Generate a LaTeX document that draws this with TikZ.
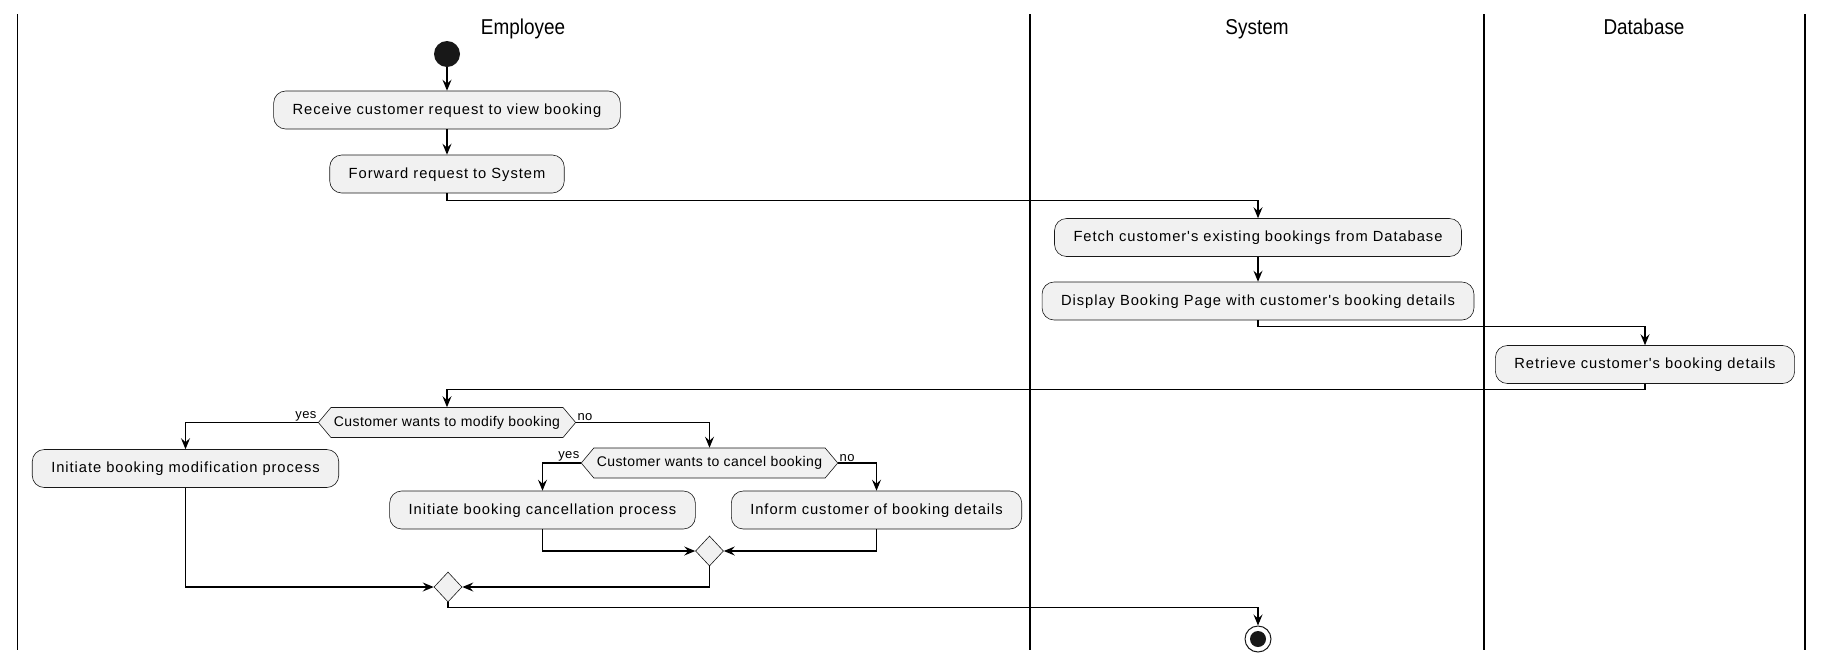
\documentclass[tikz,border=0pt]{standalone}
\usepackage{fontspec}
\setmainfont{Liberation Sans}
\newfontfamily\actfont[LetterSpace=6.5]{Liberation Sans}
\newfontfamily\askfont[LetterSpace=3]{Liberation Sans}
\newfontfamily\lanefont[FakeStretch=0.88]{Liberation Sans}
\usepackage{tikz}
\usetikzlibrary{shapes,arrows.meta,positioning,calc}
\definecolor{actfill}{HTML}{F1F1F1}
\definecolor{actline}{HTML}{181818}

\begin{document}
\begin{tikzpicture}[x=1pt,y=-1pt,
    lane/.style={line width=1.8pt},
    title/.style={anchor=base, font=\lanefont\fontsize{21.5}{24}\selectfont},
    act/.style={draw=actline, fill=actfill, line width=0.6pt, rounded corners=12pt,
        minimum height=38pt, inner xsep=19pt, text height=0.9em, text depth=0.03em,
        font=\actfont\fontsize{14.7}{18}\selectfont},
    ask/.style={draw=actline, fill=actfill, line width=0.6pt, shape=signal,
        signal to=east and west, signal pointer angle=100, minimum height=30pt,
        inner xsep=3pt, text height=0.8em, text depth=0.05em,
        font=\askfont\fontsize{14}{16}\selectfont},
    merge/.style={draw=actline, fill=actfill, line width=0.6pt, shape=diamond,
        minimum width=28pt, minimum height=30pt, inner sep=0pt},
    flag/.style={font=\askfont\fontsize{13}{14}\selectfont, inner sep=1pt},
    flow/.style={-{Stealth[length=11pt,width=9pt,inset=4pt]}, line width=1.1pt}
]
\useasboundingbox (0,0) rectangle (1829,665);

% swimlanes
\foreach \x in {17.5,1030,1484,1805} {
    \draw[lane] (\x,14) -- (\x,650);
}
\node[title] (empl) at (523,34) {Employee};
\node[title] (syst) at (1257,34) {System};
\node[title] (dbase) at (1644,34) {Database};

% activities
\node[circle, fill=actline, minimum size=26pt, inner sep=0pt] (start) at (447,54) {};
\node[act] (recv) at (447,110) {Receive customer request to view booking};
\node[act] (fwd) at (447,174) {Forward request to System};
\node[act] (fetch) at (1258,237.5) {Fetch customer's existing bookings from Database};
\node[act] (disp) at (1258,301) {Display Booking Page with customer's booking details};
\node[act] (retr) at (1645,364.5) {Retrieve customer's booking details};
\node[ask] (modq) at (447,422.5) {Customer wants to modify booking};
\node[act] (modp) at (185.5,468.5) {Initiate booking modification process};
\node[ask] (canq) at (709.5,463) {Customer wants to cancel booking};
\node[act] (canp) at (542.5,510) {Initiate booking cancellation process};
\node[act] (info) at (876.5,510) {Inform customer of booking details};
\node[merge] (mrgA) at (709.5,551) {};
\node[merge] (mrgB) at (448,587) {};
\node[circle, draw=actline, line width=1pt, minimum size=26pt, inner sep=0pt] (stop) at (1258,639) {};
\node[circle, fill=actline, minimum size=16pt, inner sep=0pt] (stopdot) at (stop) {};

% flow
\draw[flow] (start) -- (recv);
\draw[flow] (recv) -- (fwd);
\draw[flow] (fwd.south) -- ++(0,7) -| (fetch.north);
\draw[flow] (fetch) -- (disp);
\draw[flow] (disp.south) -- ++(0,6) -| (retr.north);
\draw[flow] (retr.south) -- ++(0,6) -| (modq.north);
\draw[flow] (modq.west) node[flag, anchor=south east] {yes} -| (modp.north);
\draw[flow] (modq.east) node[flag, anchor=south west] {no} -| (canq.north);
\draw[flow] (canq.west) node[flag, anchor=south east] {yes} -| (canp.north);
\draw[flow] (canq.east) node[flag, anchor=south west] {no} -| (info.north);
\draw[flow] (canp.south) |- (mrgA.west);
\draw[flow] (info.south) |- (mrgA.east);
\draw[flow] (mrgA.south) |- (mrgB.east);
\draw[flow] (modp.south) |- (mrgB.west);
\draw[flow] (mrgB.south) -- ++(0,5) -| (stop.north);
\end{tikzpicture}
\end{document}
